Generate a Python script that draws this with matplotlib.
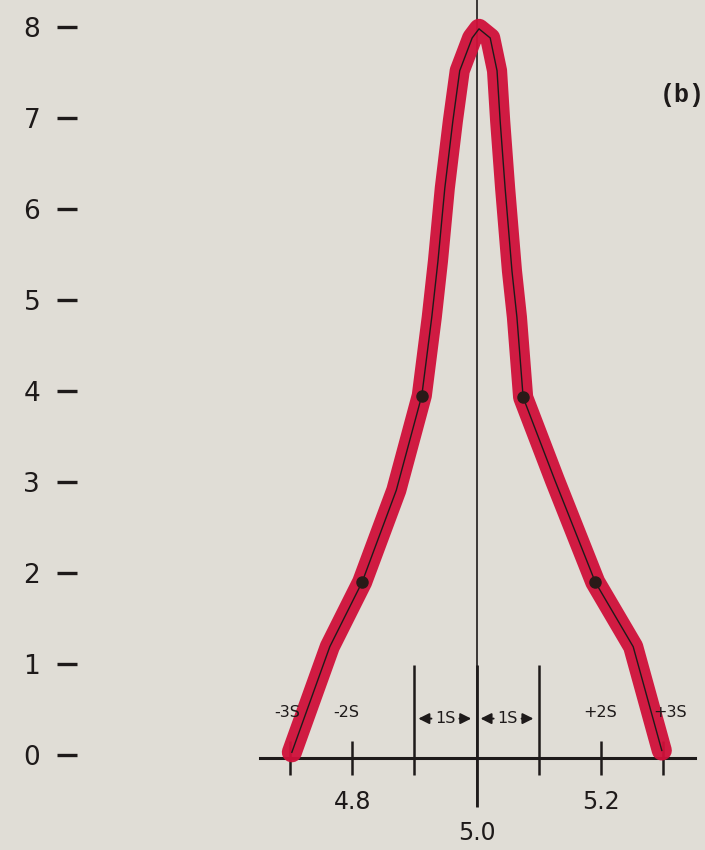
import numpy as np
import matplotlib.pyplot as plt

# hand-drawn curve
curve_x = [4.703, 4.764, 4.816, 4.871, 4.912, 4.928, 4.938, 4.949, 4.962, 4.973, 4.993, 5.004,
           5.022, 5.033, 5.038, 5.046, 5.057, 5.065, 5.075, 5.126, 5.191, 5.252, 5.298]
curve_y = [0.03, 1.19, 1.90, 2.91, 3.95, 4.81, 5.43, 6.23, 6.97, 7.52, 7.88, 7.98,
           7.88, 7.52, 6.97, 6.23, 5.32, 4.81, 3.93, 3.02, 1.90, 1.19, 0.05]

dot_x = [4.816, 4.912, 5.075, 5.191]
dot_y = [1.90, 3.95, 3.93, 1.90]

y_ticks = [0, 1, 2, 3, 4, 5, 6, 7, 8]
x_ticks = [4.7, 4.8, 5.2, 5.3]
x_ticklabels = ['', '4.8', '5.2', '']
s_pos = [4.695, 4.790, 5.199, 5.311]
s_labels = ['-3S', '-2S', '+2S', '+3S']
one_s_lines = [4.9, 5.1]
mean = 5.0

bg = '#e0ddd6'
ink = '#1e1a1a'
red = '#d0103a'
sans = ['DejaVu Sans']

fig = plt.figure(figsize=(7.05, 8.5), dpi=100, facecolor=bg)
ax = fig.add_axes([77 / 705, 0, 1 - 77 / 705, 1], facecolor=bg)

ymin, ymax = -1.044, 8.297
ax.set_xlim(4.3574, 5.3675)
ax.set_ylim(ymin, ymax)

for s in ['top', 'right', 'left']:
    ax.spines[s].set_visible(False)

# y axis: only dash ticks and numbers
ax.set_yticks(y_ticks)
ax.set_yticklabels([str(v) for v in y_ticks], family=sans, fontsize=19, color=ink)
ax.tick_params(axis='y', length=14.5, width=2.4, color=ink, pad=12, direction='out')

# x axis line drawn through the spine
ax.spines['bottom'].set_position(('data', -0.03))
ax.spines['bottom'].set_bounds(4.652, 5.351)
ax.spines['bottom'].set_linewidth(2.2)
ax.spines['bottom'].set_color(ink)
ax.set_xticks(x_ticks)
ax.set_xticklabels(x_ticklabels, family=sans, fontsize=17, color=ink)
ax.tick_params(axis='x', direction='inout', length=24, width=1.8, color=ink, pad=11)
ax.text(mean, -0.86, '5.0', family=sans, fontsize=17, color=ink, ha='center', va='center')

# mean line and the 1S guides
ax.vlines([mean], -0.57, ymax, color=ink, lw=1.2, zorder=2)
ax.vlines(one_s_lines, -0.22, 0.99, color=ink, lw=1.8, zorder=2)
ax.vlines([mean], -0.57, 0.99, color=ink, lw=2.0, zorder=2)

# red highlighter over the pen curve
ax.plot(curve_x, curve_y, color=red, lw=14.5, solid_capstyle='round', solid_joinstyle='round',
        alpha=0.95, zorder=3)
ax.plot(curve_x, curve_y, color=ink, lw=1.0, zorder=4)
ax.plot(dot_x, dot_y, 'o', color='#2a1a18', ms=8, zorder=5)

# S labels
for x, lab in zip(s_pos, s_labels):
    ax.text(x, 0.47, lab, family=sans, fontsize=11.5, color=ink, ha='center', va='center', zorder=6)

for left, right in [(one_s_lines[0], mean), (mean, one_s_lines[1])]:
    mid = (left + right) / 2
    ax.text(mid, 0.40, '1S', family=sans, fontsize=11.5, color=ink, ha='center', va='center')
    ax.annotate('', xy=(left + 0.002, 0.40), xytext=(mid - 0.018, 0.40),
                arrowprops=dict(arrowstyle='-|>', color=ink, lw=1.4, mutation_scale=16))
    ax.annotate('', xy=(right - 0.004, 0.40), xytext=(mid + 0.018, 0.40),
                arrowprops=dict(arrowstyle='-|>', color=ink, lw=1.4, mutation_scale=16))

ax.text(5.3305, 7.25, '(b)', family=['Liberation Mono', 'DejaVu Sans Mono'], fontsize=18,
        fontweight='bold', color=ink, ha='center', va='center')

fig.savefig('out.png', dpi=100, facecolor=bg)
